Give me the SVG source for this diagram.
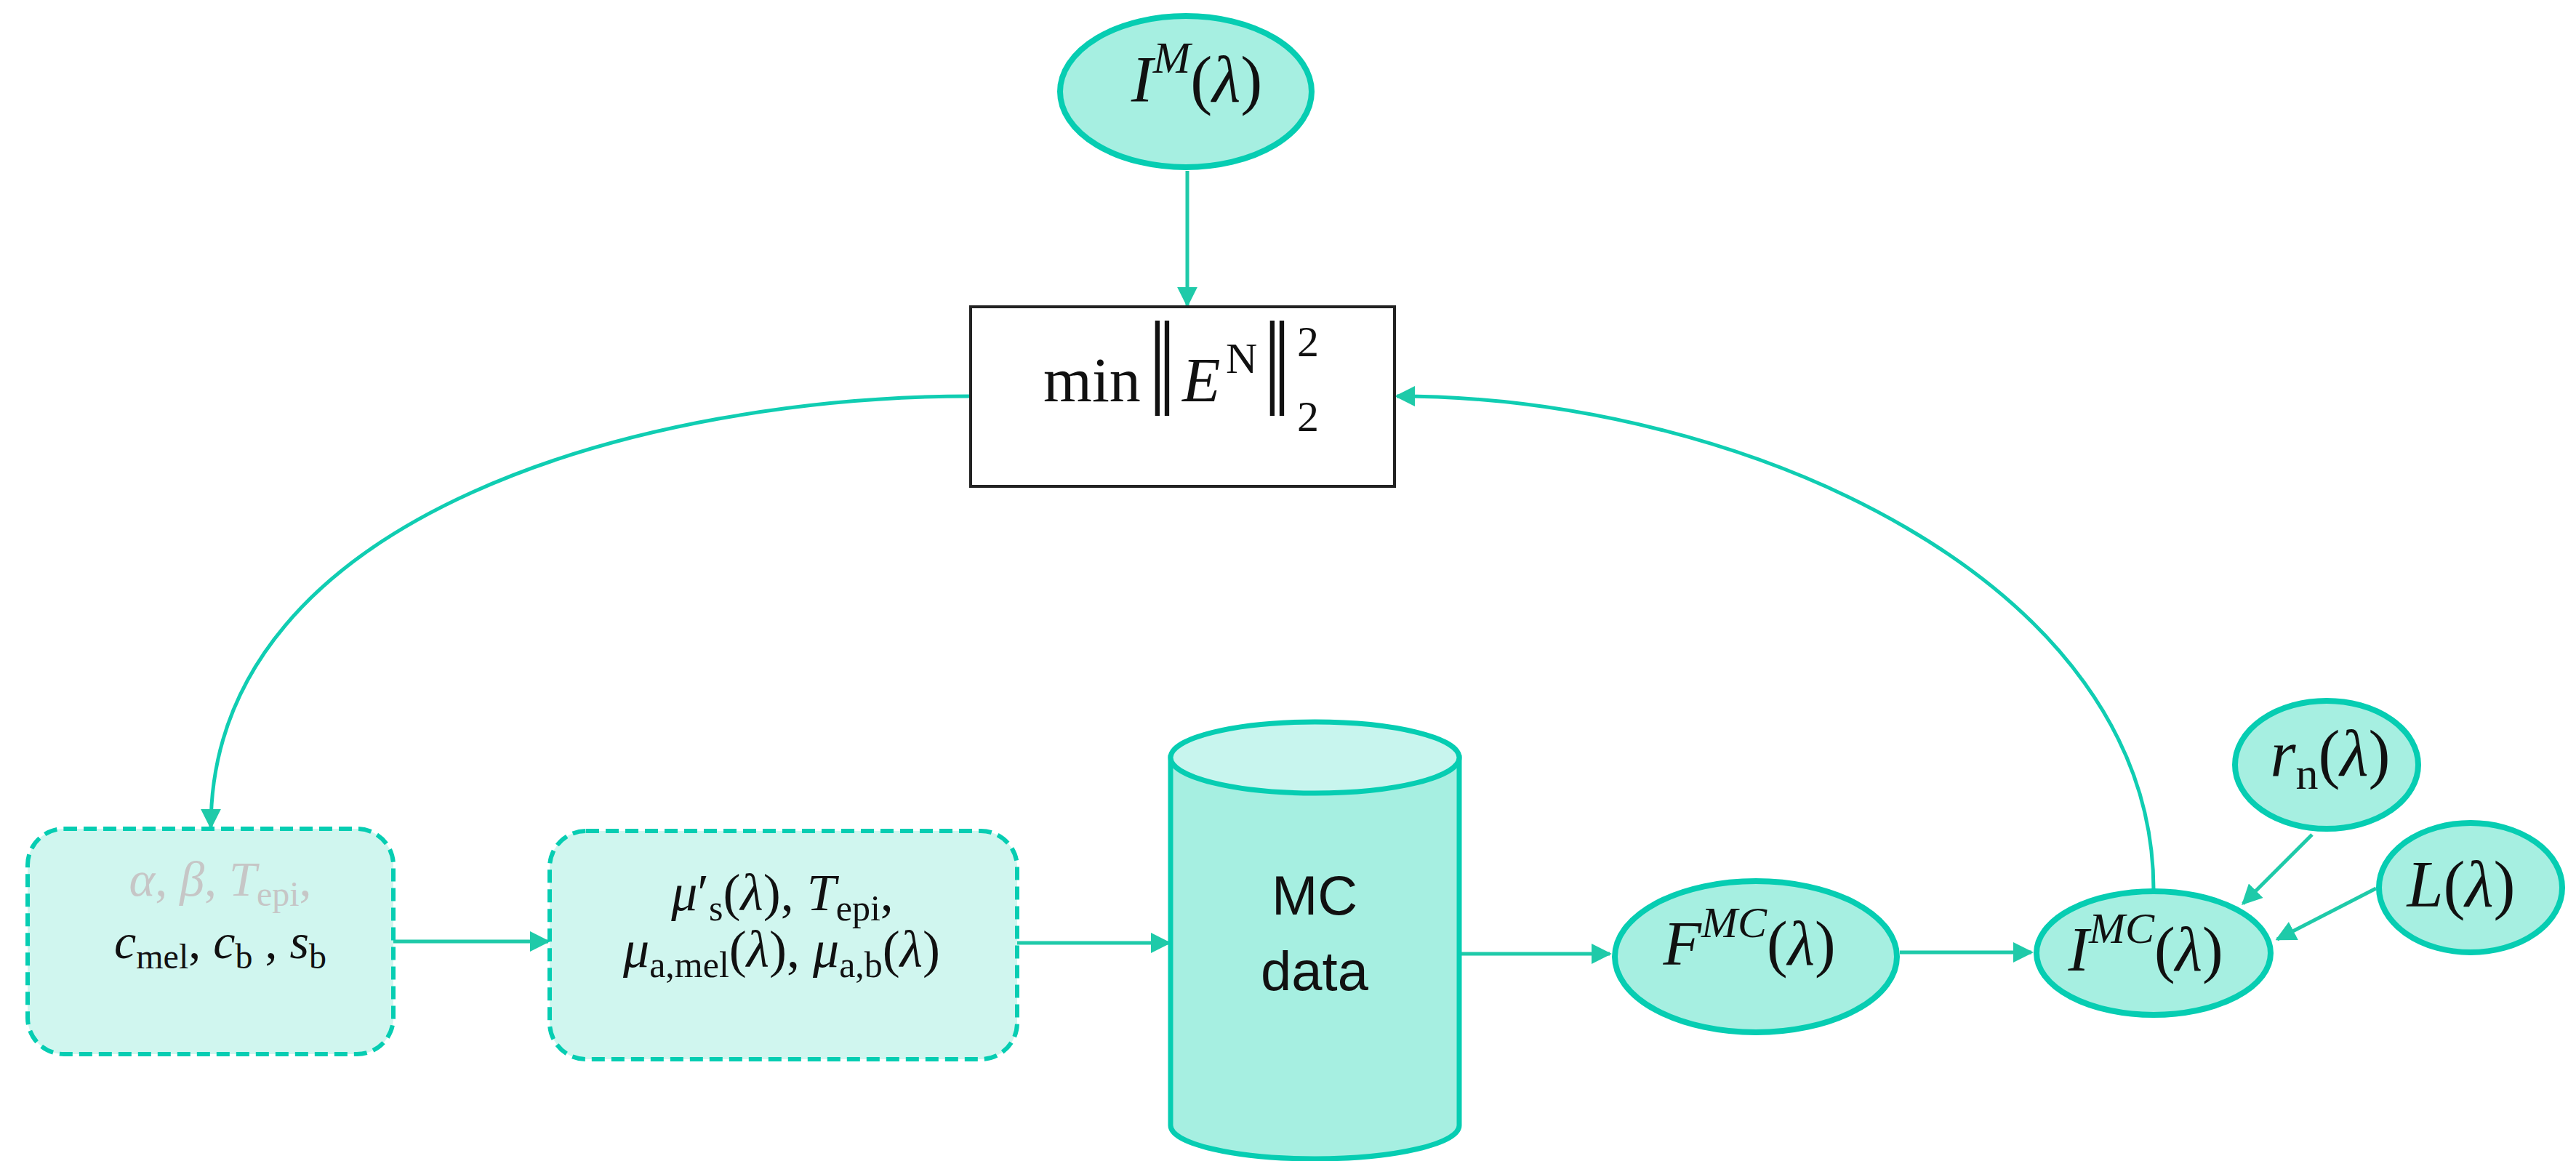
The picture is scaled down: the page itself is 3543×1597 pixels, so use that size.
<svg xmlns="http://www.w3.org/2000/svg" width="3543" height="1597" viewBox="0 0 3543 1597">
<style>
.ell{fill:#a6efe1;stroke:#06cdb2;stroke-width:8}
.dbox{fill:#d0f6ef;stroke:#06cdb2;stroke-width:6;stroke-dasharray:18 9}
.conn{fill:none;stroke:#1fcaa9;stroke-width:5}
.curve{fill:none;stroke:#10cdb2;stroke-width:5}
.m{font-family:"Liberation Serif","DejaVu Serif",serif;fill:#111}
.i{font-style:italic}
.sans{font-family:"Liberation Sans",Arial,sans-serif;fill:#111}
</style>
<defs>
<marker id="ah" viewBox="0 0 10 10" refX="9" refY="5" markerUnits="userSpaceOnUse" markerWidth="28" markerHeight="28" orient="auto">
<path d="M0,0 L10,5 L0,10 z" fill="#1fcaa9"/>
</marker>
</defs>
<rect width="3543" height="1597" fill="#ffffff"/>

<g id="connectors">
<path class="conn" d="M1633,235 L1633,420" marker-end="url(#ah)"/>
<path class="curve" d="M1335,545 C900,545 290,700 290,1138" marker-end="url(#ah)"/>
<path class="conn" d="M541,1295 L754,1295" marker-end="url(#ah)"/>
<path class="conn" d="M1399,1297 L1608,1297" marker-end="url(#ah)"/>
<path class="conn" d="M2007,1312 L2214,1312" marker-end="url(#ah)"/>
<path class="conn" d="M2613,1310 L2794,1310" marker-end="url(#ah)"/>
<path class="conn" d="M3180,1148 L3085,1243" marker-end="url(#ah)"/>
<path class="conn" d="M3268,1222 L3132,1292" marker-end="url(#ah)"/>
<path class="curve" d="M2962,1224 C2962,800 2400,545 1921,545" marker-end="url(#ah)"/>
</g>

<g id="node-IM">
<ellipse class="ell" cx="1631" cy="126" rx="173" ry="104"/>
<text class="m" x="1646" y="140" font-size="90" text-anchor="middle"><tspan class="i">I</tspan><tspan class="i" font-size="62" dy="-40">M</tspan><tspan dy="40">(</tspan><tspan class="i">λ</tspan>)</text>
</g>

<g id="node-min">
<rect x="1335" y="422" width="583" height="247" fill="#ffffff" stroke="#222222" stroke-width="4"/>
<text class="m" font-size="86"><tspan x="1435" y="552">min</tspan></text>
<text class="m" font-size="105" transform="translate(1580,572) scale(1.25,1.8)">‖</text>
<text class="m i" font-size="86"><tspan x="1626" y="552">E</tspan></text>
<text class="m" font-size="60"><tspan x="1686" y="513">N</tspan></text>
<text class="m" font-size="105" transform="translate(1738,572) scale(1.25,1.8)">‖</text>
<text class="m" font-size="60"><tspan x="1784" y="490">2</tspan><tspan x="1784" y="593">2</tspan></text>
</g>

<g id="node-params">
<rect class="dbox" x="38" y="1140" width="503" height="310" rx="50" ry="50"/>
<text class="m" x="303" y="1232" font-size="68" text-anchor="middle" style="fill:#c6c6c6"><tspan class="i">α</tspan>, <tspan class="i">β</tspan>, <tspan class="i">T</tspan><tspan font-size="48" dy="14">epi</tspan><tspan dy="-14">,</tspan></text>
<text class="m" x="303" y="1318" font-size="68" text-anchor="middle"><tspan class="i">c</tspan><tspan font-size="48" dy="14">mel</tspan><tspan dy="-14">, </tspan><tspan class="i">c</tspan><tspan font-size="48" dy="14">b</tspan><tspan dy="-14"> , </tspan><tspan class="i">s</tspan><tspan font-size="48" dy="14">b</tspan></text>
</g>

<g id="node-optical">
<rect class="dbox" x="756" y="1143" width="643" height="314" rx="50" ry="50"/>
<text class="m" x="1076" y="1252" font-size="72" text-anchor="middle"><tspan class="i">μ</tspan><tspan>′</tspan><tspan font-size="50" dy="14">s</tspan><tspan dy="-14">(</tspan><tspan class="i">λ</tspan>), <tspan class="i">T</tspan><tspan font-size="50" dy="14">epi</tspan><tspan dy="-14">,</tspan></text>
<text class="m" x="1075" y="1330" font-size="72" text-anchor="middle"><tspan class="i">μ</tspan><tspan font-size="50" dy="14">a,mel</tspan><tspan dy="-14">(</tspan><tspan class="i">λ</tspan>), <tspan class="i">μ</tspan><tspan font-size="50" dy="14">a,b</tspan><tspan dy="-14">(</tspan><tspan class="i">λ</tspan>)</text>
</g>

<g id="node-mcdata">
<path d="M1610,1042 L1610,1548 A198.5,46 0 0 0 2007,1548 L2007,1042 Z" fill="#a6efe1" stroke="#06cdb2" stroke-width="7"/>
<ellipse cx="1808.5" cy="1042" rx="198.5" ry="49" fill="#c8f5ee" stroke="#06cdb2" stroke-width="7"/>
<text class="sans" x="1808" y="1258" font-size="76" text-anchor="middle">MC</text>
<text class="sans" x="1808" y="1362" font-size="76" text-anchor="middle">data</text>
</g>

<g id="node-FMC">
<ellipse class="ell" cx="2415" cy="1316" rx="194" ry="104"/>
<text class="m" x="2406" y="1327" font-size="86" text-anchor="middle"><tspan class="i">F</tspan><tspan class="i" font-size="60" dy="-38">MC</tspan><tspan dy="38">(</tspan><tspan class="i">λ</tspan>)</text>
</g>

<g id="node-IMC">
<ellipse class="ell" cx="2962" cy="1311" rx="161" ry="85"/>
<text class="m" x="2951" y="1335" font-size="86" text-anchor="middle"><tspan class="i">I</tspan><tspan class="i" font-size="60" dy="-38">MC</tspan><tspan dy="38">(</tspan><tspan class="i">λ</tspan>)</text>
</g>

<g id="node-rn">
<ellipse class="ell" cx="3200" cy="1052" rx="126" ry="88"/>
<text class="m" x="3205" y="1067" font-size="90" text-anchor="middle"><tspan class="i">r</tspan><tspan font-size="62" dy="18">n</tspan><tspan dy="-18">(</tspan><tspan class="i">λ</tspan>)</text>
</g>

<g id="node-L">
<ellipse class="ell" cx="3398" cy="1221" rx="126" ry="89"/>
<text class="m" x="3385" y="1247" font-size="90" text-anchor="middle"><tspan class="i">L</tspan>(<tspan class="i">λ</tspan>)</text>
</g>
</svg>
